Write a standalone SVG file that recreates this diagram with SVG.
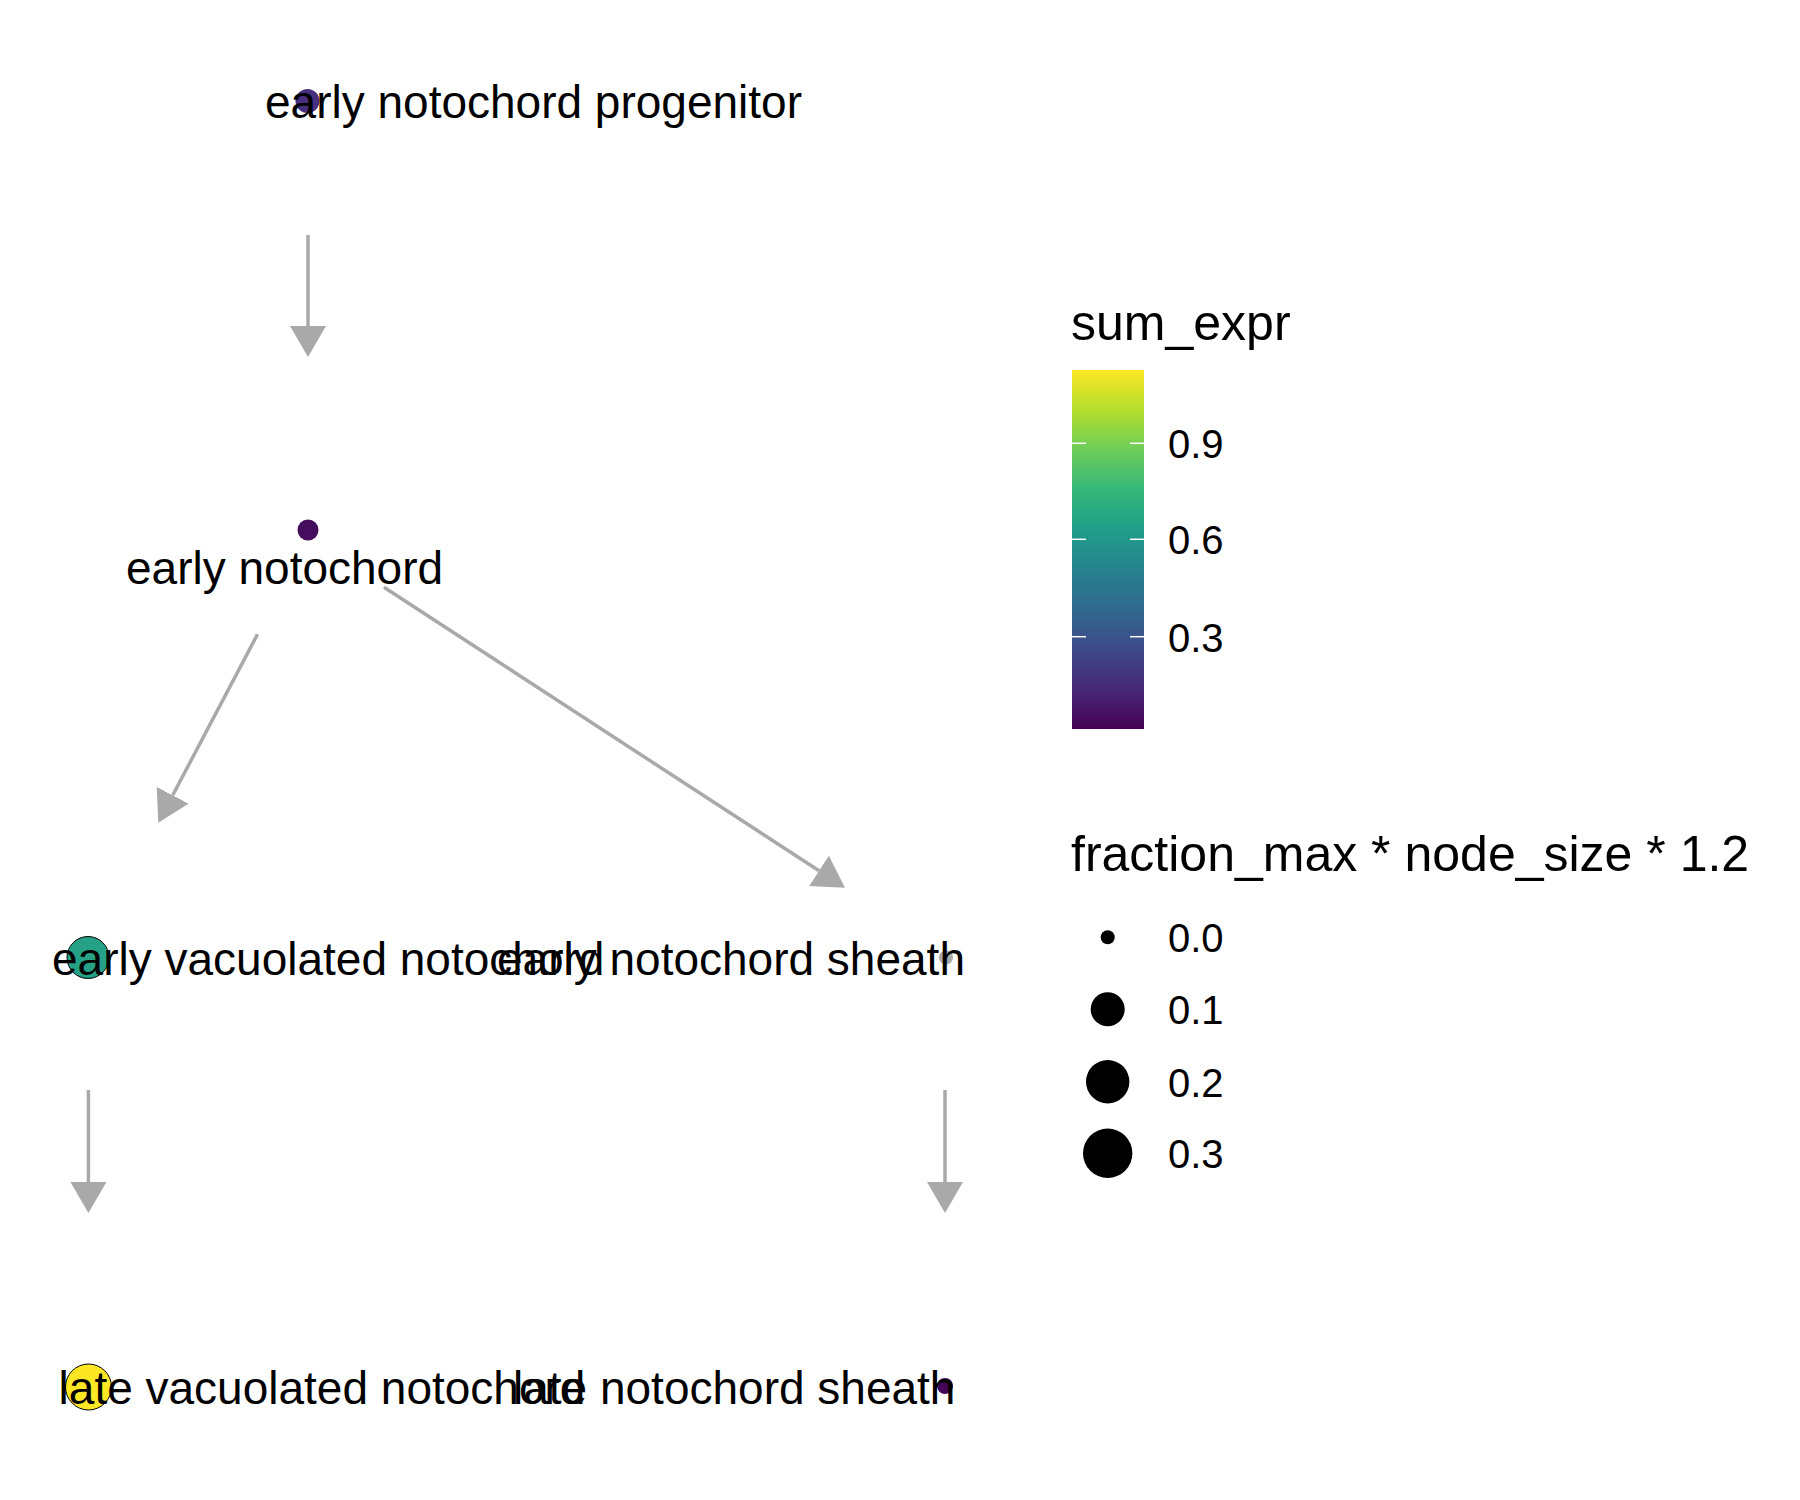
<svg xmlns="http://www.w3.org/2000/svg" width="1800" height="1500" viewBox="0 0 1800 1500">
<defs>
<style>
.lbl{font-family:"Liberation Sans",Arial,Helvetica,sans-serif;font-size:46px;fill:#000}
.ttl{font-family:"Liberation Sans",Arial,Helvetica,sans-serif;font-size:50px;fill:#000}
.tick{font-family:"Liberation Sans",Arial,Helvetica,sans-serif;font-size:40px;fill:#000}
.edge{stroke:#a9a9a9;stroke-width:3.5;fill:none;marker-end:url(#ah)}
.big{stroke:#000;stroke-width:1}
.tk{stroke:#fff;stroke-width:1.5}
</style>
<marker id="ah" viewBox="0 0 31 36" refX="0" refY="18" markerWidth="31" markerHeight="36" markerUnits="userSpaceOnUse" orient="auto">
<path d="M0,0 L31,18 L0,36 Z" fill="#a9a9a9"/>
</marker>
<linearGradient id="vir" x1="0" y1="1" x2="0" y2="0">
<stop offset="0" stop-color="#440154"/>
<stop offset="0.111" stop-color="#482878"/>
<stop offset="0.222" stop-color="#3E4A89"/>
<stop offset="0.333" stop-color="#31688E"/>
<stop offset="0.444" stop-color="#26828E"/>
<stop offset="0.556" stop-color="#1F9E89"/>
<stop offset="0.667" stop-color="#35B779"/>
<stop offset="0.778" stop-color="#6DCD59"/>
<stop offset="0.889" stop-color="#B4DE2C"/>
<stop offset="1" stop-color="#FDE725"/>
</linearGradient>
</defs>
<rect x="0" y="0" width="1800" height="1500" fill="#fff"/>
<g id="connectors">
<line class="edge" x1="308" y1="235" x2="308" y2="326"/>
<line class="edge" x1="257.5" y1="634.3" x2="172.7" y2="795.3"/>
<line class="edge" x1="384" y1="587.3" x2="819" y2="870.8"/>
<line class="edge" x1="88.4" y1="1090" x2="88.4" y2="1182"/>
<line class="edge" x1="945" y1="1090" x2="945" y2="1182"/>
</g>
<g id="node-early-notochord-progenitor">
<circle cx="307.5" cy="101" r="12" fill="#46307e"/>
<text class="lbl" x="265" y="118">early notochord progenitor</text>
</g>
<g id="node-early-notochord">
<circle cx="308" cy="530" r="10.5" fill="#450d5d"/>
<text class="lbl" x="126" y="583.5">early notochord</text>
</g>
<g id="node-early-vacuolated-notochord">
<circle class="big" cx="88" cy="957.5" r="21" fill="#25a285"/>
<text class="lbl" x="52" y="975">early vacuolated notochord</text>
</g>
<g id="node-early-notochord-sheath">
<circle cx="946" cy="957.5" r="7" fill="#a9a9a9"/>
<text class="lbl" x="497" y="975">early notochord sheath</text>
</g>
<g id="node-late-vacuolated-notochord">
<circle class="big" cx="88.5" cy="1387" r="23" fill="#fde725"/>
<text class="lbl" x="58.6" y="1403.5">late vacuolated notochord</text>
</g>
<g id="node-late-notochord-sheath">
<circle cx="945" cy="1386" r="8" fill="#440558"/>
<text class="lbl" x="513" y="1403.5">late notochord sheath</text>
</g>
<g id="legend-colour">
<text class="ttl" x="1071" y="340">sum_expr</text>
<rect x="1072" y="370" width="72" height="359" fill="url(#vir)"/>
<line class="tk" x1="1072" y1="443.3" x2="1086" y2="443.3"/>
<line class="tk" x1="1130" y1="443.3" x2="1144" y2="443.3"/>
<line class="tk" x1="1072" y1="539.3" x2="1086" y2="539.3"/>
<line class="tk" x1="1130" y1="539.3" x2="1144" y2="539.3"/>
<line class="tk" x1="1072" y1="636.7" x2="1086" y2="636.7"/>
<line class="tk" x1="1130" y1="636.7" x2="1144" y2="636.7"/>
<text class="tick" x="1168" y="458">0.9</text>
<text class="tick" x="1168" y="554">0.6</text>
<text class="tick" x="1168" y="651.5">0.3</text>
</g>
<g id="legend-size">
<text class="ttl" x="1071" y="871">fraction_max * node_size * 1.2</text>
<circle cx="1107.7" cy="937.3" r="7" fill="#000"/>
<circle cx="1107.7" cy="1009.3" r="17" fill="#000"/>
<circle cx="1107.7" cy="1081.7" r="21.7" fill="#000"/>
<circle cx="1107.7" cy="1153.3" r="24.7" fill="#000"/>
<text class="tick" x="1168" y="952">0.0</text>
<text class="tick" x="1168" y="1024">0.1</text>
<text class="tick" x="1168" y="1096.5">0.2</text>
<text class="tick" x="1168" y="1168">0.3</text>
</g>
</svg>
